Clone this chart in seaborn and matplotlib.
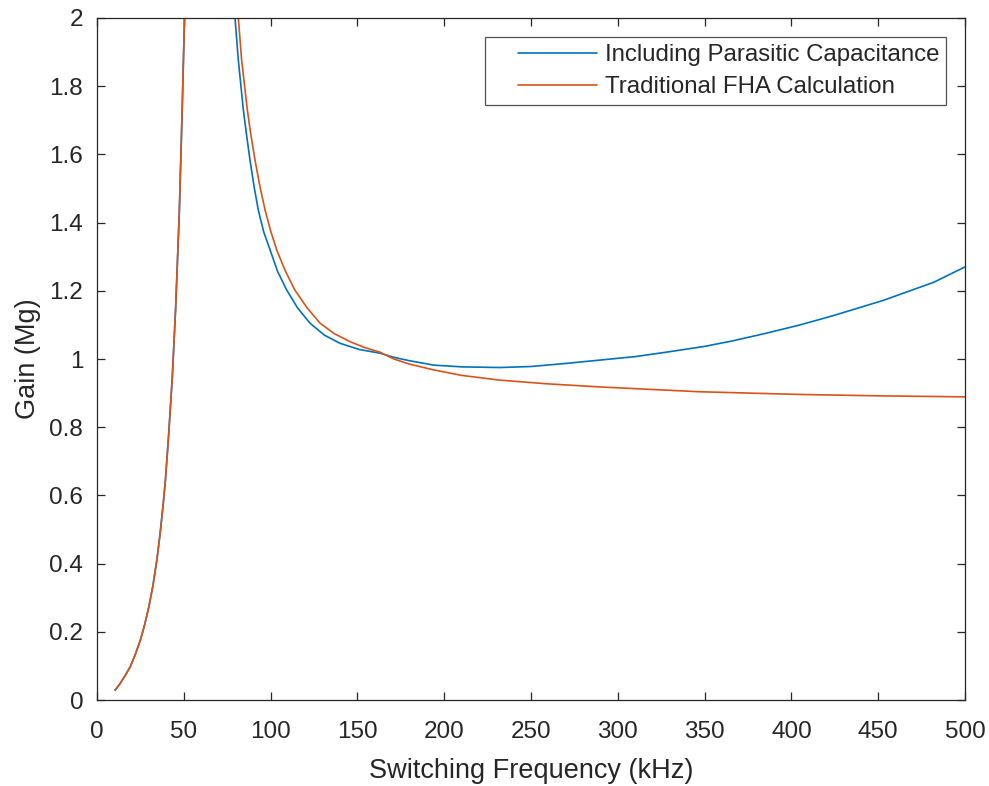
import numpy as np
import pandas as pd
import matplotlib.pyplot as plt
import matplotlib.ticker as mticker
from matplotlib.legend_handler import HandlerLine2D
import seaborn as sns

# values (kHz, gain)
rise_freq = [10.4, 13, 16, 19.2, 22, 25, 27.5, 29.8, 32.2, 34.6, 36.5, 38.0, 39.4, 41.3, 43.4,
             45.3, 47.4, 49.0, 50.4, 50.9]
rise_gain = [0.029, 0.046, 0.07, 0.098, 0.133, 0.176, 0.222, 0.272, 0.335, 0.415, 0.495, 0.568,
             0.645, 0.78, 0.95, 1.15, 1.43, 1.72, 2.0, 2.1]

para_freq = [78.0, 79.5, 81.4, 84.3, 86.2, 88.1, 90.5, 92.9, 96.0, 99.7, 104.0, 109.3, 115.5,
             122.7, 131, 140, 151, 163, 171, 180, 194, 210, 232, 250, 270, 290, 310, 328, 350,
             366, 385, 405, 424, 453, 482, 500]
para_gain = [2.1, 2.0, 1.877, 1.73, 1.655, 1.584, 1.505, 1.437, 1.373, 1.32, 1.257, 1.202, 1.15,
             1.105, 1.07, 1.046, 1.028, 1.017, 1.005, 0.995, 0.982, 0.977, 0.975, 0.978, 0.987,
             0.997, 1.007, 1.02, 1.037, 1.053, 1.075, 1.1, 1.127, 1.172, 1.225, 1.27]

fha_freq = [79.4, 81.4, 83.3, 86.6, 88.7, 91, 93.8, 96.8, 100.0, 103.5, 108.5, 114, 121,
            128.5, 136.5, 145.7, 154, 163, 171, 180, 194, 210, 232, 260, 290, 347, 405, 450, 500]
fha_gain = [2.1, 2.0, 1.877, 1.73, 1.655, 1.584, 1.507, 1.437, 1.376, 1.32, 1.258, 1.202,
            1.15, 1.105, 1.075, 1.051, 1.034, 1.02, 1.0, 0.985, 0.968, 0.952, 0.938, 0.927,
            0.918, 0.904, 0.896, 0.892, 0.889]

series = ['Including Parasitic Capacitance', 'Traditional FHA Calculation']

frames = []
for name in series:
    frames.append(pd.DataFrame({'freq': rise_freq, 'gain': rise_gain, 'series': name, 'branch': name + ' rise'}))
frames.append(pd.DataFrame({'freq': para_freq, 'gain': para_gain, 'series': series[0], 'branch': 'para fall'}))
frames.append(pd.DataFrame({'freq': fha_freq, 'gain': fha_gain, 'series': series[1], 'branch': 'fha fall'}))
df = pd.concat(frames, ignore_index=True)


# matlab-like legend: line sits in the right part of the handle box
class ShortLine(HandlerLine2D):
    def get_xdata(self, legend, xdescent, ydescent, width, height, fontsize):
        xd = np.array([-xdescent + 0.25 * width, -xdescent + width])
        return xd, xd


sns.set_style('ticks')
plt.rcParams['font.family'] = ['Liberation Sans', 'DejaVu Sans']
axis_col = '#262626'

fig, ax = plt.subplots(figsize=(9.89, 7.86), dpi=100)
fig.subplots_adjust(left=0.0981, right=0.9757, top=0.9771, bottom=0.1094)

sns.lineplot(data=df, x='freq', y='gain', hue='series', units='branch', estimator=None,
             sort=False, palette=['#0072BD', '#D95319'], linewidth=1.2, ax=ax)

ax.set_xlim(0, 500)
ax.set_ylim(0, 2)
ax.xaxis.set_major_locator(mticker.MultipleLocator(50))
ax.yaxis.set_major_locator(mticker.MultipleLocator(0.2))
ax.yaxis.set_major_formatter(mticker.FormatStrFormatter('%g'))
ax.tick_params(direction='in', top=True, right=True, length=6, width=0.9,
               color=axis_col, labelcolor=axis_col, labelsize=17.5)
ax.tick_params(axis='x', pad=15)
ax.tick_params(axis='y', pad=10)
for sp in ax.spines.values():
    sp.set_visible(True)
    sp.set_color(axis_col)
    sp.set_linewidth(0.9)

ax.set_xlabel('Switching Frequency (kHz)', fontsize=19.5, color=axis_col, labelpad=11)
ax.set_ylabel('Gain (Mg)', fontsize=19.5, color=axis_col, labelpad=6)

handles, labels = ax.get_legend_handles_labels()
leg = ax.legend(handles, labels, loc='upper right', fontsize=17.3, frameon=True, fancybox=False,
                edgecolor=axis_col, handlelength=4.4, handletextpad=0.3,
                labelspacing=0.42, borderaxespad=0.8, borderpad=0.28,
                handler_map={h: ShortLine() for h in handles})
leg.get_frame().set_linewidth(0.9)
for t in leg.get_texts():
    t.set_color(axis_col)

plt.savefig('out.png', dpi=100)
